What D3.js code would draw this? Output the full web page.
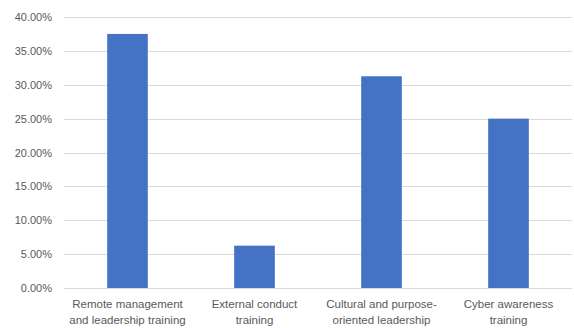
<!DOCTYPE html>
<html>
<head>
<meta charset="utf-8">
<script src="https://cdn.jsdelivr.net/npm/d3@7"></script>
<style>
  html, body { margin: 0; padding: 0; background: #fff; }
  svg { display: block; }
  text { font-family: "Liberation Sans", Arial, sans-serif; fill: #595959; }
</style>
</head>
<body>
<svg id="chart" width="574" height="328"></svg>
<script>
const categories = [
  ["Remote management", "and leadership training"],
  ["External conduct", "training"],
  ["Cultural and purpose-", "oriented leadership"],
  ["Cyber awareness", "training"]
];
const values = [0.375, 0.0625, 0.3125, 0.25];
const yTicks = [0, 0.05, 0.10, 0.15, 0.20, 0.25, 0.30, 0.35, 0.40];

(function () {
const svg = d3.select("#chart");
const mLeft = 64, mRight = 572, mTop = 17, mBottom = 288;

const x = d3.scaleBand()
  .domain(d3.range(categories.length))
  .range([mLeft, mRight])
  .paddingInner(0.68)
  .paddingOuter(0.34);

const y = d3.scaleLinear().domain([0, 0.40]).range([mBottom, mTop]);

// gridlines
svg.append("g")
  .selectAll("line")
  .data(yTicks)
  .join("line")
  .attr("x1", mLeft).attr("x2", mRight)
  .attr("y1", d => Math.round(y(d)) + 0.5)
  .attr("y2", d => Math.round(y(d)) + 0.5)
  .attr("stroke", "#d9d9d9")
  .attr("stroke-width", 1);

// y axis labels
const yAxis = d3.axisLeft(y).tickValues(yTicks).tickFormat(d3.format(".2%")).tickSize(0).tickPadding(12);
const gy = svg.append("g").attr("transform", `translate(${mLeft},0)`).call(yAxis);
gy.select(".domain").remove();
gy.selectAll("text").attr("font-size", 11).attr("fill", "#595959")
  .style("font-family", "'Liberation Sans', Arial, sans-serif");

// bars
svg.append("g")
  .selectAll("rect")
  .data(values)
  .join("rect")
  .attr("x", (d, i) => x(i))
  .attr("width", x.bandwidth())
  .attr("y", d => y(d))
  .attr("height", d => mBottom - y(d))
  .attr("fill", "#4472c4");

// category labels
const xc = svg.append("g");
categories.forEach((lines, i) => {
  const cx = x(i) + x.bandwidth() / 2;
  const t = xc.append("text")
    .attr("text-anchor", "middle")
    .attr("font-size", 11.5);
  lines.forEach((ln, j) => {
    t.append("tspan").attr("x", cx).attr("y", 308 + j * 16).text(ln);
  });
});
})();
</script>
</body>
</html>
